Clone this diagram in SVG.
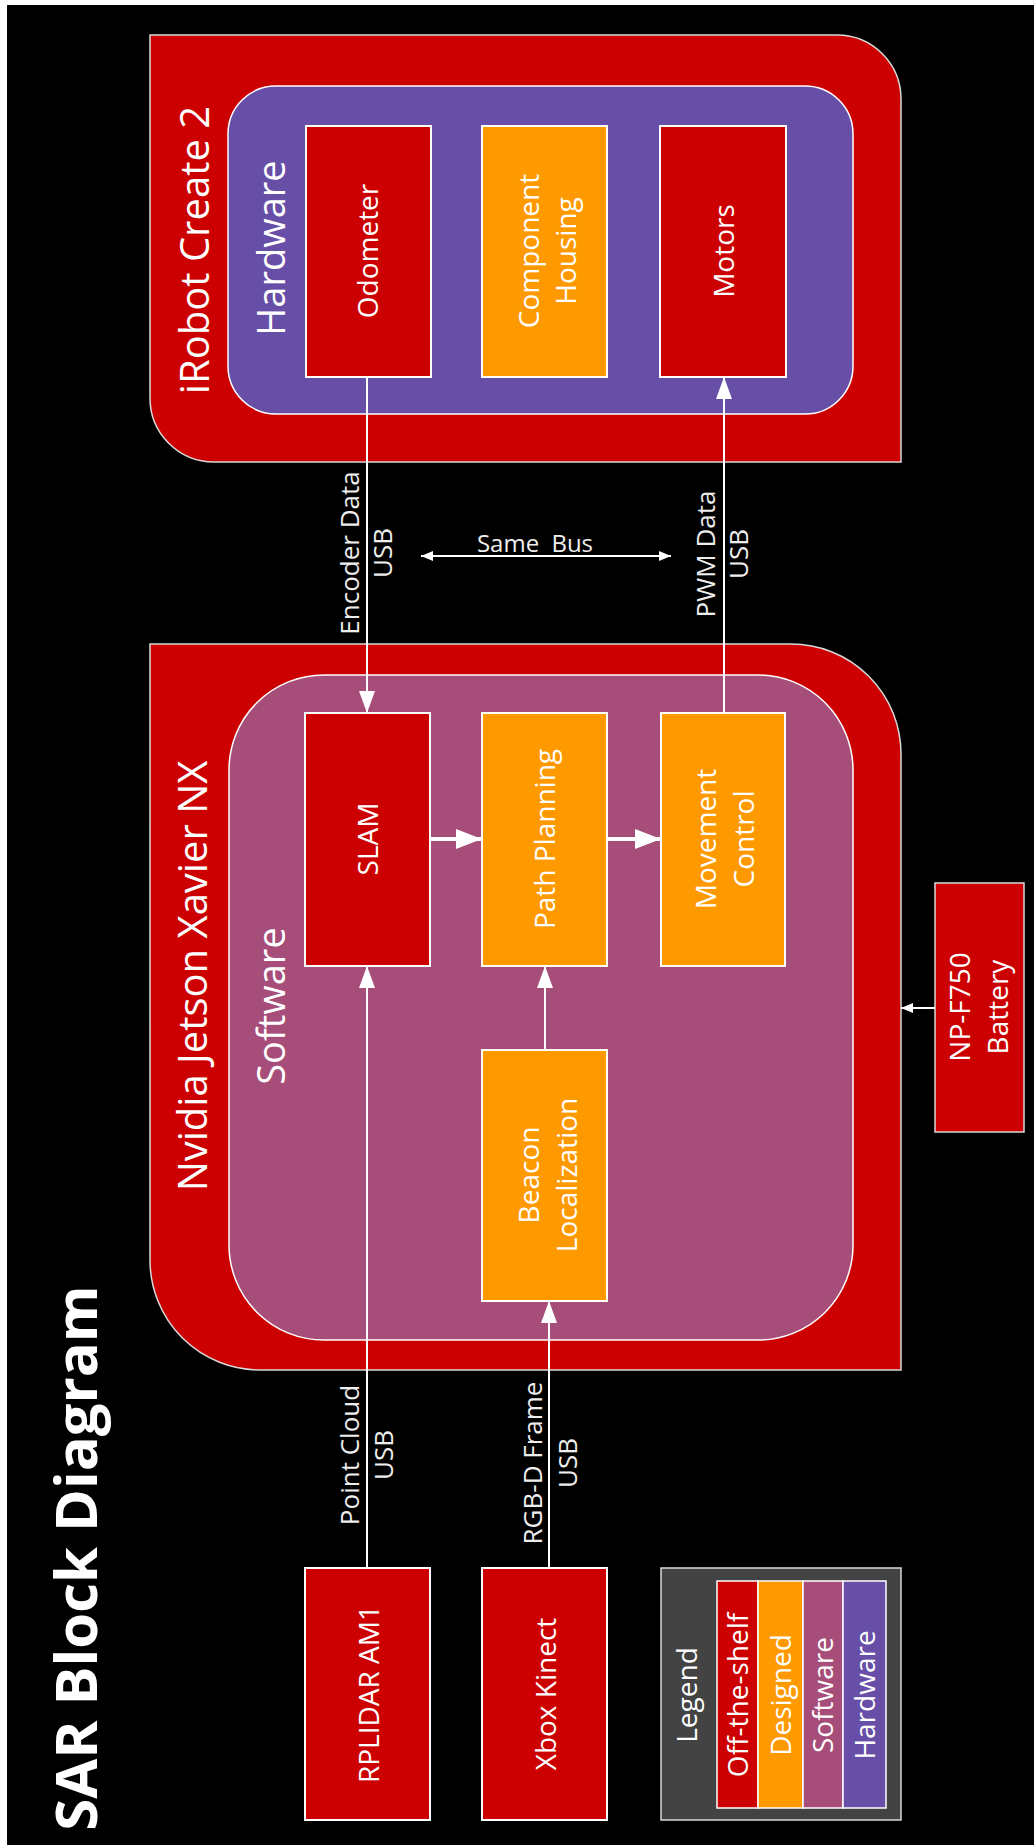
<svg xmlns="http://www.w3.org/2000/svg" width="1034" height="1845" viewBox="0 0 1034 1845">
<style>
.t{font-family:"Open Sans","Liberation Sans",sans-serif;fill:#ffffff;text-anchor:middle}
.lbl{font-family:"Open Sans","Liberation Sans",sans-serif;fill:#eeeeee;text-anchor:middle;font-size:26px}
.s40{font-size:40px}
.s38{font-size:38px}
.s28{font-size:28px}
.red{fill:#cc0000}
.org{fill:#ff9900}
.mag{fill:#a64d79}
.pur{fill:#674ea7}
.node{stroke:#ffffff;stroke-width:2}
.outer{stroke:#d9d9d9;stroke-width:1.5}
.edge{stroke:#ffffff;stroke-width:2;fill:none}
.thick{stroke:#ffffff;stroke-width:4;fill:none}
</style>
<defs>
<marker id="arr" markerUnits="userSpaceOnUse" viewBox="0 0 22 16" refX="22" refY="8" markerWidth="22" markerHeight="16" orient="auto">
<path d="M0,0 L22,8 L0,16 Z" fill="#ffffff"/>
</marker>
<marker id="arrT" markerUnits="userSpaceOnUse" viewBox="0 0 26 20" refX="26" refY="10" markerWidth="26" markerHeight="20" orient="auto">
<path d="M0,0 L26,10 L0,20 Z" fill="#ffffff"/>
</marker>
<marker id="arrS" markerUnits="userSpaceOnUse" viewBox="0 0 12 10" refX="12" refY="5" markerWidth="12" markerHeight="10" orient="auto-start-reverse">
<path d="M0,0 L12,5 L0,10 Z" fill="#ffffff"/>
</marker>
</defs>
<rect x="0" y="0" width="1034" height="1845" fill="#ffffff"/>
<rect x="7" y="5" width="1027" height="1840" fill="#000000"/>

<g id="title">
<text class="t" transform="translate(97,1558) rotate(-90)" style="font-size:58px;font-weight:700">SAR Block Diagram</text>
</g>

<g id="irobot">
<path class="red outer" d="M150,35 H837 A64,64 0 0 1 901,99 V462 H214 A64,64 0 0 1 150,398 Z"/>
<text class="t s40" transform="translate(209,250) rotate(-90)">iRobot Create 2</text>
</g>
<g id="hardware">
<rect class="pur node" x="228" y="86" width="625" height="328" rx="48" ry="48" style="stroke-width:1.5"/>
<text class="t s38" transform="translate(285,248) rotate(-90)">Hardware</text>
</g>
<g id="odometer">
<rect class="red node" x="306" y="126" width="125" height="251"/>
<text class="t s28" transform="translate(378,251) rotate(-90)">Odometer</text>
</g>
<g id="component-housing">
<rect class="org node" x="482" y="126" width="125" height="251"/>
<text class="t s28" transform="translate(539,251) rotate(-90)"><tspan x="0" y="0">Component</tspan><tspan x="0" y="37">Housing</tspan></text>
</g>
<g id="motors">
<rect class="red node" x="660" y="126" width="126" height="251"/>
<text class="t s28" transform="translate(734,251) rotate(-90)">Motors</text>
</g>

<g id="jetson">
<path class="red outer" d="M150,644 H791 A110,110 0 0 1 901,754 V1370 H260 A110,110 0 0 1 150,1260 Z"/>
<text class="t s40" transform="translate(207,976) rotate(-90)">Nvidia Jetson Xavier NX</text>
</g>
<g id="software">
<rect class="mag node" x="229" y="675" width="624" height="665" rx="95" ry="95" style="stroke-width:1.5"/>
<text class="t s38" transform="translate(285,1006) rotate(-90)">Software</text>
</g>
<g id="slam">
<rect class="red node" x="305" y="713" width="125" height="253"/>
<text class="t s28" transform="translate(378,839) rotate(-90)">SLAM</text>
</g>
<g id="path-planning">
<rect class="org node" x="482" y="713" width="125" height="253"/>
<text class="t s28" transform="translate(555,839) rotate(-90)">Path Planning</text>
</g>
<g id="movement-control">
<rect class="org node" x="661" y="713" width="124" height="253"/>
<text class="t s28" transform="translate(716,839) rotate(-90)"><tspan x="0" y="0">Movement</tspan><tspan x="0" y="38">Control</tspan></text>
</g>
<g id="beacon-localization">
<rect class="org node" x="482" y="1050" width="125" height="251"/>
<text class="t s28" transform="translate(539,1175) rotate(-90)"><tspan x="0" y="0">Beacon</tspan><tspan x="0" y="38">Localization</tspan></text>
</g>

<g id="battery">
<rect class="red node" x="935" y="883" width="89" height="249" style="stroke:#d9d9d9;stroke-width:1.5"/>
<text class="t s28" transform="translate(970,1007) rotate(-90)"><tspan x="0" y="0">NP-F750</tspan><tspan x="0" y="38">Battery</tspan></text>
</g>

<g id="rplidar">
<rect class="red node" x="305" y="1568" width="125" height="252"/>
<text class="t s28" transform="translate(379,1694) rotate(-90)">RPLIDAR AM1</text>
</g>
<g id="kinect">
<rect class="red node" x="482" y="1568" width="125" height="252"/>
<text class="t s28" transform="translate(556,1694) rotate(-90)">Xbox Kinect</text>
</g>

<g id="legend">
<rect x="661" y="1568" width="240" height="252" fill="#434343" stroke="#d9d9d9" stroke-width="1.5"/>
<text class="t s28" transform="translate(697,1695) rotate(-90)">Legend</text>
<rect class="red" x="717" y="1581" width="41" height="227" stroke="#ffffff" stroke-width="1.5"/>
<rect class="org" x="758" y="1581" width="45" height="227" stroke="#ffffff" stroke-width="1.5"/>
<rect class="mag" x="803" y="1581" width="40" height="227" stroke="#ffffff" stroke-width="1.5"/>
<rect class="pur" x="843" y="1581" width="43" height="227" stroke="#ffffff" stroke-width="1.5"/>
<text class="t s28" transform="translate(748,1695) rotate(-90)">Off-the-shelf</text>
<text class="t s28" transform="translate(791,1695) rotate(-90)">Designed</text>
<text class="t s28" transform="translate(833,1695) rotate(-90)">Software</text>
<text class="t s28" transform="translate(875,1695) rotate(-90)">Hardware</text>
</g>

<g id="connectors">
<line class="edge" x1="367" y1="377" x2="367" y2="713" marker-end="url(#arr)"/>
<line class="edge" x1="724" y1="713" x2="724" y2="377" marker-end="url(#arr)"/>
<line class="edge" x1="367" y1="1568" x2="367" y2="966" marker-end="url(#arr)"/>
<line class="edge" x1="549" y1="1568" x2="549" y2="1301" marker-end="url(#arr)"/>
<line class="edge" x1="545" y1="1050" x2="545" y2="966" marker-end="url(#arr)"/>
<line class="thick" x1="430" y1="839" x2="482" y2="839" marker-end="url(#arrT)"/>
<line class="thick" x1="607" y1="839" x2="661" y2="839" marker-end="url(#arrT)"/>
<line class="edge" x1="421" y1="556" x2="671" y2="556" marker-start="url(#arrS)" marker-end="url(#arrS)"/>
<line class="edge" x1="935" y1="1008" x2="901" y2="1008" marker-end="url(#arrS)"/>
<text class="lbl" transform="translate(359,553) rotate(-90)"><tspan x="0" y="0">Encoder Data</tspan><tspan x="0" y="33">USB</tspan></text>
<text class="lbl" transform="translate(715,554) rotate(-90)"><tspan x="0" y="0">PWM Data</tspan><tspan x="0" y="33">USB</tspan></text>
<text class="lbl" transform="translate(359,1455) rotate(-90)"><tspan x="0" y="0">Point Cloud</tspan><tspan x="0" y="34">USB</tspan></text>
<text class="lbl" transform="translate(542,1463) rotate(-90)"><tspan x="0" y="0">RGB-D Frame</tspan><tspan x="0" y="35">USB</tspan></text>
<text class="lbl" x="535" y="552" style="font-size:24px;word-spacing:6px">Same Bus</text>
</g>
</svg>
